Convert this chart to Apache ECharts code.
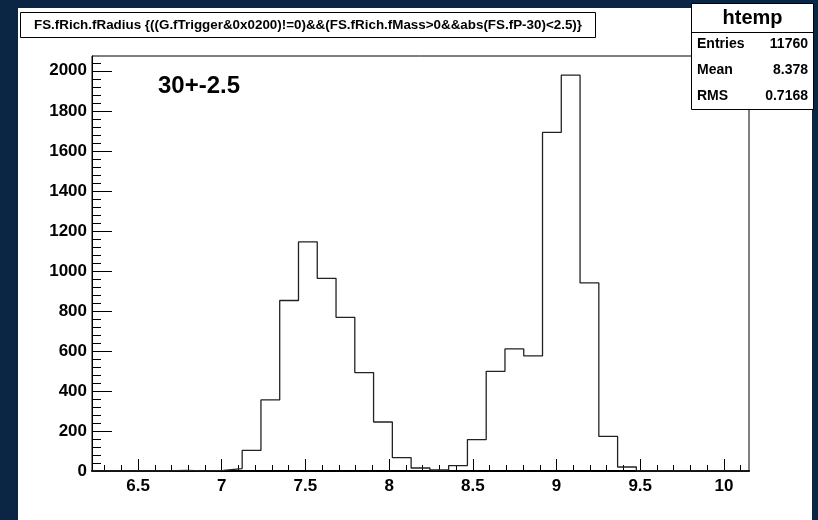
<!DOCTYPE html>
<html><head><meta charset="utf-8">
<script src="https://cdn.jsdelivr.net/npm/echarts@6/dist/echarts.min.js"></script>
<style>html,body{margin:0;padding:0;background:#0b2545;}#c{width:818px;height:520px;}</style>
</head><body><div id="c"></div>
<script>
// ---- data ----
const histTitle = "FS.fRich.fRadius {((G.fTrigger&0x0200)!=0)&&(FS.fRich.fMass>0&&abs(FS.fP-30)<2.5)}";
const histName = "htemp";
const statLabels = ["Entries", "Mean", "RMS"];
const statValues = ["11760", "8.378", "0.7168"];
const annotation = "30+-2.5";
const xMin = 6.225;
const xMax = 10.15;
const nBins = 35;
const binCounts = [0, 0, 0, 0, 3, 0, 3, 12, 103, 355, 852, 1145, 963, 768, 492, 245, 67, 15, 5, 27,
  157, 498, 610, 575, 1692, 1978, 940, 173, 20, 0, 0, 0, 0, 0, 0];
const xTickLabels = [6.5, 7, 7.5, 8, 8.5, 9, 9.5, 10];
const yTickLabels = [0, 200, 400, 600, 800, 1000, 1200, 1400, 1600, 1800, 2000];
const yMax = 2074;

// minor tick positions (axis decoration)
const xMinor = [];
for (let k = 63; k <= 101; k++) if (k % 5 !== 0) xMinor.push(k / 10);
const yMinor = [];
for (let k = 1; k * 40 < yMax; k++) if (k % 5 !== 0) yMinor.push(k * 40);

// histogram outline points at bin edges
const binW = (xMax - xMin) / nBins;
const histData = binCounts.map((c, i) => [xMin + i * binW, c]);
histData.push([xMax, 0]);

const FONT = "'Liberation Sans', Arial, Helvetica, sans-serif";
const G = { left: 92, top: 56, right: 818 - 749, bottom: 520 - 471 };

const chart = echarts.init(document.getElementById('c'), null, { renderer: 'canvas' });
const lblStyle = { color: '#000', fontWeight: 'bold', fontSize: 17, fontFamily: FONT, formatter: v => String(v) };

chart.setOption({
  animation: false,
  backgroundColor: '#0b2545',
  grid: { left: G.left, top: G.top, right: G.right, bottom: G.bottom, show: true,
    backgroundColor: 'transparent', borderColor: '#000', borderWidth: 1, containLabel: false },
  xAxis: [
    { type: 'value', min: xMin, max: xMax, position: 'bottom', gridIndex: 0,
      axisLine: { show: true, lineStyle: { color: '#000', width: 2 } },
      axisTick: { show: true, inside: true, length: 12, customValues: xTickLabels, lineStyle: { color: '#000', width: 1 } },
      axisLabel: Object.assign({ show: true, margin: 7, customValues: xTickLabels }, lblStyle),
      splitLine: { show: false } },
    { type: 'value', min: xMin, max: xMax, position: 'bottom', gridIndex: 0,
      axisLine: { show: false },
      axisTick: { show: true, inside: true, length: 6, customValues: xMinor, lineStyle: { color: '#000', width: 1 } },
      axisLabel: { show: false }, splitLine: { show: false } }
  ],
  yAxis: [
    { type: 'value', min: 0, max: yMax, position: 'left', gridIndex: 0,
      axisLine: { show: true, lineStyle: { color: '#000', width: 1 } },
      axisTick: { show: true, inside: true, length: 20, customValues: yTickLabels, lineStyle: { color: '#000', width: 1 } },
      axisLabel: Object.assign({ show: true, margin: 5, customValues: yTickLabels }, lblStyle),
      splitLine: { show: false } },
    { type: 'value', min: 0, max: yMax, position: 'left', gridIndex: 0,
      axisLine: { show: false },
      axisTick: { show: true, inside: true, length: 9, customValues: yMinor, lineStyle: { color: '#000', width: 1 } },
      axisLabel: { show: false }, splitLine: { show: false } }
  ],
  series: [{
    type: 'line', xAxisIndex: 0, yAxisIndex: 0, data: histData, step: 'end',
    showSymbol: false, symbol: 'none', clip: true,
    lineStyle: { color: '#222', width: 1.3 }, z: 5
  }],
  graphic: [
    { type: 'rect', z: -10, silent: true, shape: { x: 18, y: 8, width: 794, height: 512 }, style: { fill: '#fff' } },
    { type: 'rect', z: 50, shape: { x: 20.5, y: 12.5, width: 575, height: 25 }, style: { fill: '#fff', stroke: '#000', lineWidth: 1 } },
    { type: 'text', z: 51, style: { x: 308, y: 25, text: histTitle, align: 'center', verticalAlign: 'middle',
        font: "bold 13.4px " + FONT, fill: '#000' } },
    { type: 'text', z: 51, style: { x: 158, y: 86, text: annotation, align: 'left', verticalAlign: 'middle',
        font: "bold 24px " + FONT, fill: '#000' } },
    { type: 'rect', z: 50, shape: { x: 691.5, y: 3.5, width: 122, height: 106 }, style: { fill: '#fff', stroke: '#000', lineWidth: 1 } },
    { type: 'line', z: 51, shape: { x1: 691.5, y1: 32.5, x2: 813.5, y2: 32.5 }, style: { stroke: '#000', lineWidth: 1 } },
    { type: 'text', z: 52, style: { x: 752.5, y: 18, text: histName, align: 'center', verticalAlign: 'middle',
        font: "bold 20px " + FONT, fill: '#000' } },
    ...statLabels.map((s, i) => ({ type: 'text', z: 52, style: { x: 697, y: [44, 70, 96][i], text: s, align: 'left',
        verticalAlign: 'middle', font: "bold 14px " + FONT, fill: '#000' } })),
    ...statValues.map((s, i) => ({ type: 'text', z: 52, style: { x: 808, y: [44, 70, 96][i], text: s, align: 'right',
        verticalAlign: 'middle', font: "bold 14px " + FONT, fill: '#000' } }))
  ]
});
</script></body></html>
